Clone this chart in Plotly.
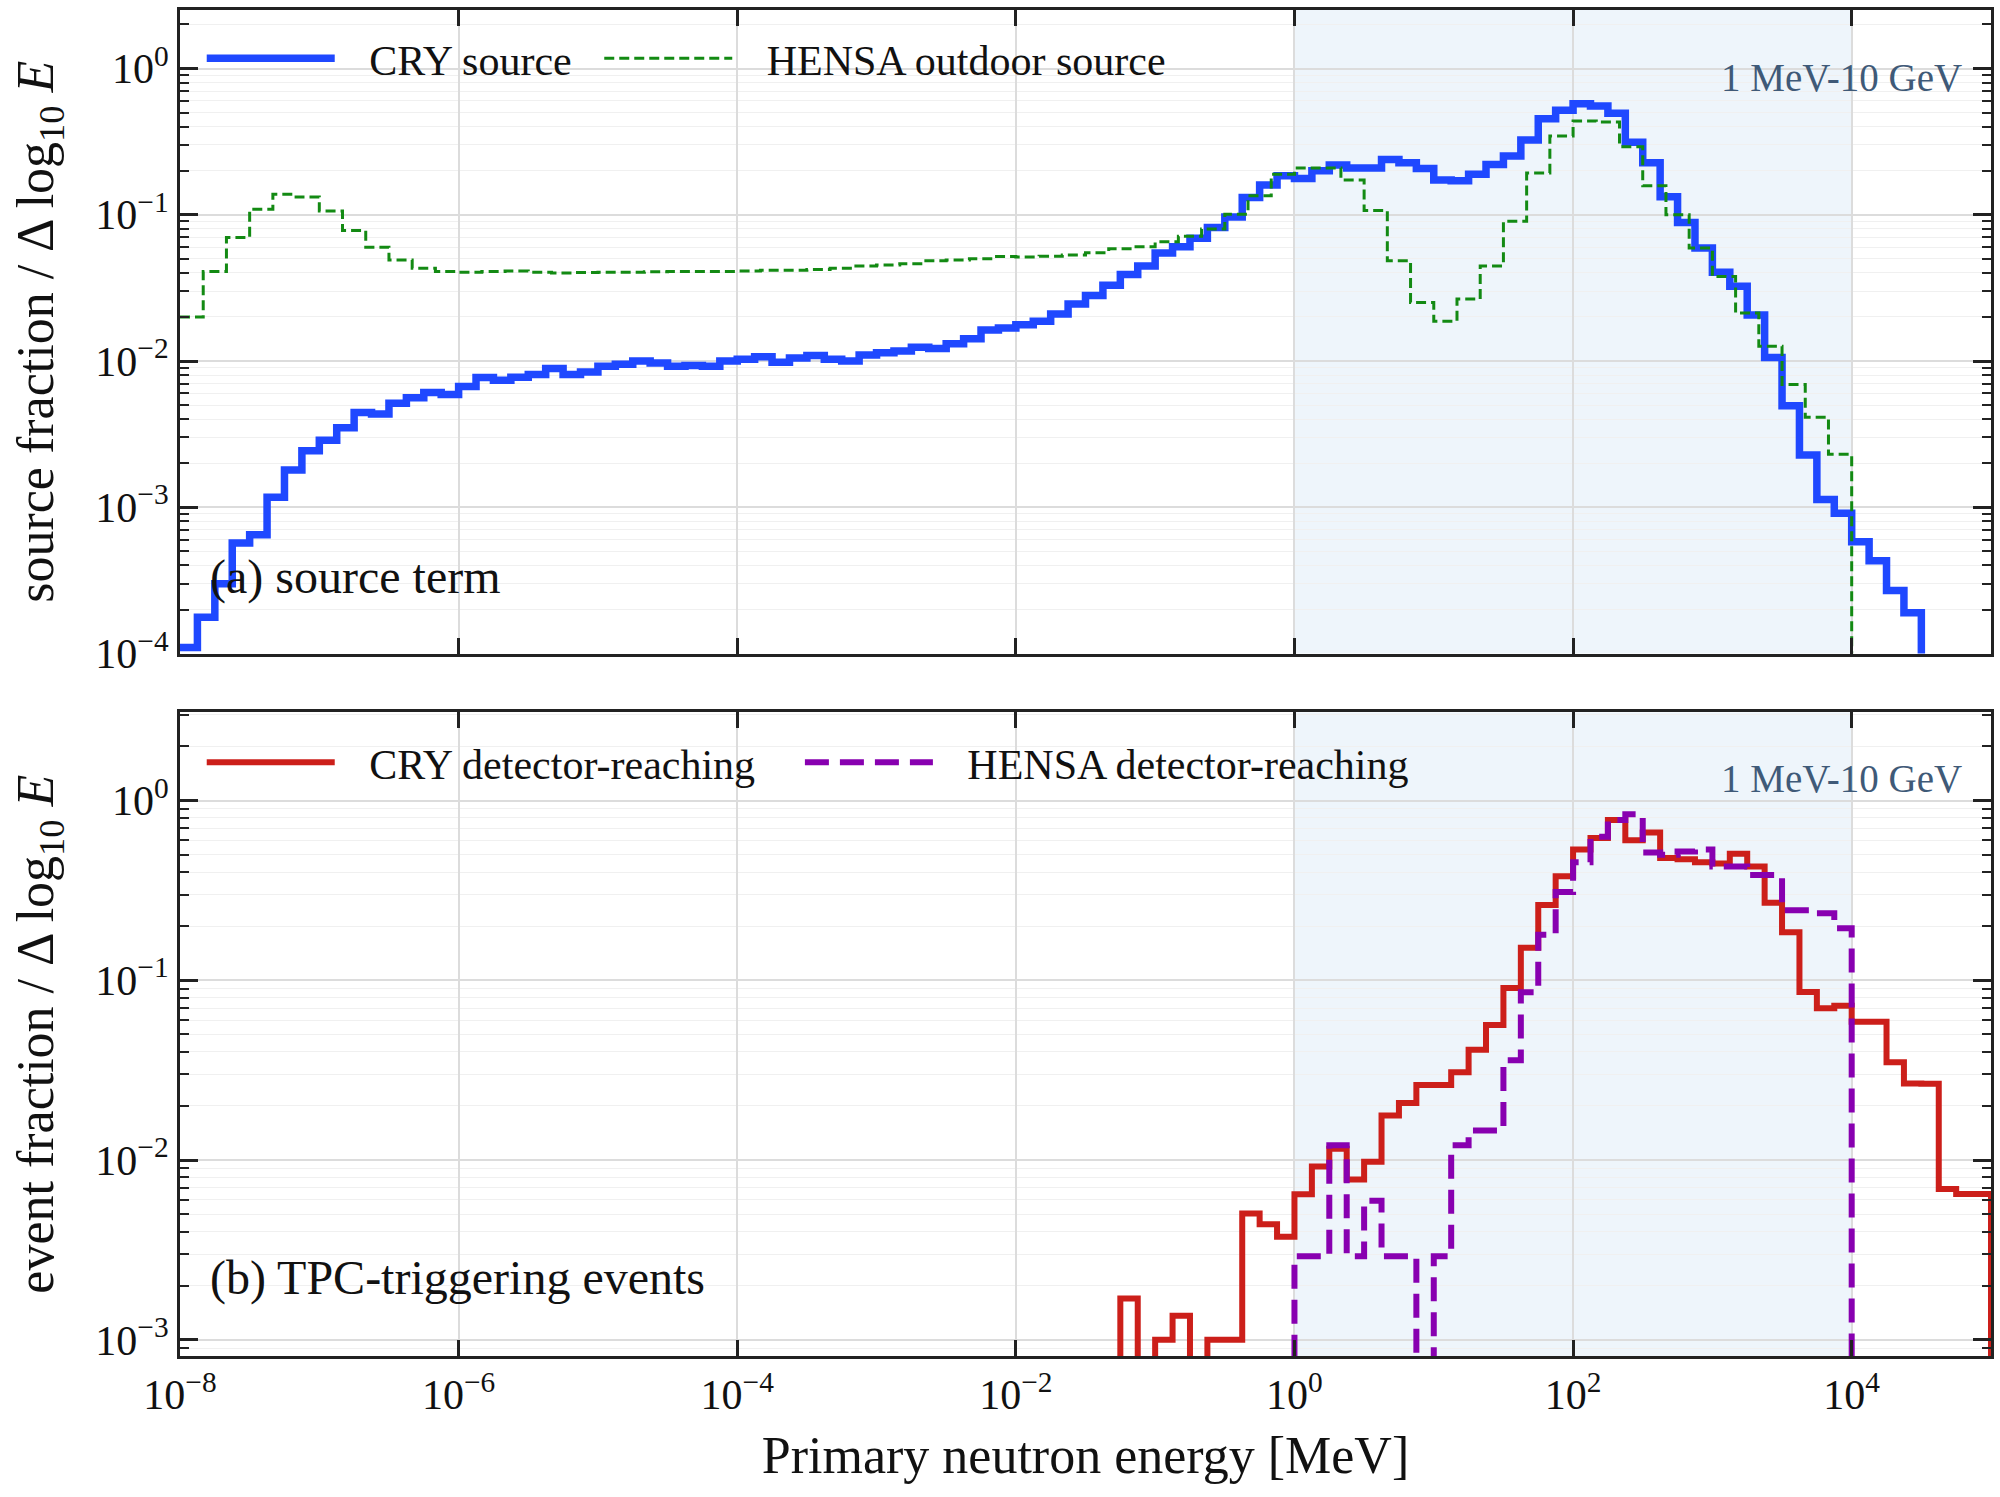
import numpy as np
import plotly.graph_objects as go
from plotly.subplots import make_subplots

# ---- data (fraction / delta log10 E) ----
# CRY source, 8 bins per decade starting at 1e-8 MeV
cry_source = [
    1.1e-4, 1.77e-4, 3.0e-4, 5.7e-4, 6.5e-4, 1.17e-3, 1.8e-3, 2.43e-3,
    2.87e-3, 3.5e-3, 4.44e-3, 4.35e-3, 5.14e-3, 5.6e-3, 6.1e-3, 5.9e-3,
    6.7e-3, 7.7e-3, 7.4e-3, 7.75e-3, 8.1e-3, 8.9e-3, 8.1e-3, 8.4e-3,
    9.2e-3, 9.5e-3, 1.0e-2, 9.7e-3, 9.2e-3, 9.3e-3, 9.2e-3, 1.0e-2,
    1.03e-2, 1.07e-2, 9.8e-3, 1.05e-2, 1.09e-2, 1.03e-2, 1.0e-2, 1.1e-2,
    1.14e-2, 1.17e-2, 1.24e-2, 1.22e-2, 1.31e-2, 1.42e-2, 1.63e-2, 1.68e-2,
    1.77e-2, 1.87e-2, 2.1e-2, 2.45e-2, 2.8e-2, 3.3e-2, 3.9e-2, 4.47e-2,
    5.47e-2, 6.04e-2, 6.9e-2, 8.18e-2, 9.67e-2, 0.131, 0.160, 0.185,
    0.177, 0.200, 0.219, 0.209, 0.209, 0.239, 0.227, 0.207,
    0.173, 0.171, 0.189, 0.221, 0.252, 0.324, 0.453, 0.518,
    0.573, 0.554, 0.494, 0.313, 0.227, 0.133, 0.0886, 0.0593,
    0.0404, 0.0324, 0.0206, 0.01055, 0.00494, 0.00228, 0.00113, 0.00091,
    5.8e-4, 4.3e-4, 2.7e-4, 1.9e-4,
]
# HENSA outdoor source, 6 bins per decade starting at 1e-8 MeV
hensa_source = [
    0.020, 0.041, 0.070, 0.109, 0.138, 0.132, 0.106, 0.078, 0.060, 0.049, 0.043, 0.041,
    0.0405, 0.041, 0.0412, 0.0405, 0.040, 0.0403, 0.0405, 0.0405, 0.0408, 0.041, 0.041, 0.041,
    0.0412, 0.0418, 0.0418, 0.0423, 0.043, 0.0447, 0.0453, 0.0462, 0.0484, 0.049, 0.050, 0.0518,
    0.0515, 0.052, 0.053, 0.055, 0.0585, 0.0604, 0.0655, 0.0714, 0.080, 0.101, 0.135, 0.189,
    0.209, 0.209, 0.173, 0.107, 0.0484, 0.0251, 0.0187, 0.0265, 0.0447, 0.0904, 0.193, 0.346,
    0.438, 0.430, 0.292, 0.158, 0.100, 0.0593, 0.0378, 0.0213, 0.01264, 0.00691, 0.00412, 0.0023,
]
# CRY detector-reaching, 8 bins per decade starting at 10^-1.25 MeV
cry_detector = [
    1.7e-3, 0, 1.0e-3, 1.36e-3, 0, 1.0e-3, 1.0e-3, 5.05e-3, 4.4e-3, 3.74e-3,
    6.45e-3, 9.2e-3, 1.155e-2, 7.8e-3, 9.8e-3, 1.77e-2, 2.08e-2, 2.62e-2,
    2.62e-2, 3.08e-2, 4.11e-2, 5.64e-2, 9.06e-2, 0.152, 0.262, 0.379,
    0.535, 0.619, 0.780, 0.602, 0.664, 0.479, 0.471, 0.454,
    0.447, 0.506, 0.430, 0.270, 0.185, 0.086, 0.070, 0.0723,
    0.0588, 0.0588, 0.035, 0.0267, 0.0266, 6.9e-3, 6.47e-3, 6.47e-3,
]
# HENSA detector-reaching, 8 bins per decade starting at 1 MeV
hensa_detector = [
    2.92e-3, 2.92e-3, 1.21e-2, 2.92e-3, 5.94e-3, 2.92e-3, 2.92e-3, 0,
    2.92e-3, 1.21e-2, 1.46e-2, 1.46e-2, 3.59e-2, 8.59e-2, 0.179, 0.310,
    0.454, 0.629, 0.780, 0.840, 0.514, 0.500, 0.520, 0.535,
    0.430, 0.430, 0.385, 0.385, 0.245, 0.245, 0.236, 0.195,
]

x_exponents = [-8, -6, -4, -2, 0, 2, 4]
y_exponents_top = [-4, -3, -2, -1, 0]
y_exponents_bottom = [-3, -2, -1, 0]

FONT = "Liberation Serif"
INK = "#222222"
FLOOR = 1e-7  # stands in for empty bins on the log axis
PAD = "\u00a0\u00a0\u2009"  # gap between legend key and label


def step_xy(values, log_start, per_decade, drop_left=True):
    n = len(values)
    edges = 10 ** (log_start + np.arange(n + 1) / per_decade)
    vals = [v if v > 0 else FLOOR for v in values]
    xs = list(edges[:-1]) + [edges[-1]]
    ys = vals + [FLOOR]
    if drop_left:
        xs = [edges[0]] + xs
        ys = [FLOOR] + ys
    return xs, ys


def pow_label(e):
    return "10<sup>" + str(e).replace("-", "\u2212") + "</sup>"


fig = make_subplots(rows=2, cols=1, shared_xaxes=True, vertical_spacing=0.0438)

x, y = step_xy(cry_source, -8, 8, drop_left=False)
fig.add_trace(go.Scatter(x=x, y=y, mode="lines", line_shape="hv", name=PAD + "CRY source",
                         line=dict(color="#1f48ff", width=7.5), legend="legend", showlegend=True),
              row=1, col=1)
x, y = step_xy(hensa_source, -8, 6, drop_left=False)
fig.add_trace(go.Scatter(x=x, y=y, mode="lines", line_shape="hv", name=PAD + "HENSA outdoor source",
                         line=dict(color="#138a13", width=3, dash="10px,5px"), legend="legend2",
                         showlegend=True), row=1, col=1)
x, y = step_xy(cry_detector, -1.25, 8)
fig.add_trace(go.Scatter(x=x, y=y, mode="lines", line_shape="hv", name=PAD + "CRY detector-reaching",
                         line=dict(color="#cc1f1a", width=6), legend="legend3", showlegend=True),
              row=2, col=1)
x, y = step_xy(hensa_detector, 0, 8)
fig.add_trace(go.Scatter(x=x, y=y, mode="lines", line_shape="hv", name=PAD + "HENSA detector-reaching",
                         line=dict(color="#8800b0", width=6, dash="24px,11px"), legend="legend4",
                         showlegend=True), row=2, col=1)

# 1 MeV - 10 GeV band
fig.add_vrect(x0=1, x1=1e4, fillcolor="#eef5fb", opacity=1, line_width=0, layer="below",
              row="all", col=1)

xaxis_style = dict(
    type="log", range=[-8, 5],
    tickvals=[10.0 ** e for e in x_exponents], ticktext=[pow_label(e) for e in x_exponents],
    ticks="inside", ticklen=16, tickwidth=3, tickcolor=INK,
    showline=True, linewidth=3, linecolor=INK, mirror="allticks",
    showgrid=True, gridcolor="#dcdcdc", gridwidth=1.5,
    tickfont=dict(family=FONT, size=42, color="#111"),
)
fig.update_xaxes(**xaxis_style)
fig.update_xaxes(showticklabels=False, row=1, col=1)
fig.update_xaxes(title=dict(text="Primary neutron energy [MeV]", font=dict(family=FONT, size=52, color="#111"),
                            standoff=20), row=2, col=1)


def yaxis_style(exps, lo, hi, title):
    minor_vals = [k * 10.0 ** e for e in range(int(np.floor(lo)) - 1, int(np.ceil(hi)) + 1) for k in range(2, 10)]
    return dict(
        type="log", range=[lo, hi],
        tickvals=[10.0 ** e for e in exps], ticktext=[pow_label(e) for e in exps],
        ticks="inside", ticklen=18, tickwidth=3, tickcolor=INK,
        showline=True, linewidth=3, linecolor=INK, mirror="allticks",
        showgrid=True, gridcolor="#dcdcdc", gridwidth=1.5,
        minor=dict(tickmode="array", tickvals=minor_vals, ticks="inside", ticklen=9, tickwidth=2.2,
                   tickcolor=INK, showgrid=True, gridcolor="#f0f0f0", gridwidth=1),
        tickfont=dict(family=FONT, size=42, color="#111"),
        title=dict(text=title, font=dict(family=FONT, size=52, color="#111"), standoff=26),
    )


fig.update_yaxes(**yaxis_style(y_exponents_top, -4, 0.4,
                               "source fraction / \u0394 log<sub>10</sub> <i>E</i>"), row=1, col=1)
fig.update_yaxes(**yaxis_style(y_exponents_bottom, -3.09, 0.49,
                               "event fraction / \u0394 log<sub>10</sub> <i>E</i>"), row=2, col=1)

annotations = [
    dict(text="(a) source term", x=0.0154, y=0.579, xanchor="left", size=48, color="#111"),
    dict(text="(b) TPC-triggering events", x=0.0154, y=0.058, xanchor="left", size=48, color="#111"),
    dict(text="1 MeV-10 GeV", x=0.985, y=0.9495, xanchor="right", size=39, color="#3f5a78"),
    dict(text="1 MeV-10 GeV", x=0.985, y=0.4287, xanchor="right", size=39, color="#3f5a78"),
]
for a in annotations:
    fig.add_annotation(text=a["text"], x=a["x"], y=a["y"], xref="paper", yref="paper",
                       xanchor=a["xanchor"], yanchor="middle", showarrow=False,
                       font=dict(family=FONT, size=a["size"], color=a["color"]))

legend_common = dict(orientation="h", bgcolor="rgba(0,0,0,0)", xanchor="left", yanchor="middle",
                     font=dict(family=FONT, size=42, color="#111"), itemwidth=128)
fig.update_layout(
    width=2000, height=1497,
    margin=dict(l=180, r=6, t=10, b=141),
    plot_bgcolor="white", paper_bgcolor="white",
    font=dict(family=FONT, color="#111"),
    showlegend=True,
    legend=dict(x=0.012, y=0.964, **legend_common),
    legend2=dict(x=0.2315, y=0.964, **legend_common),
    legend3=dict(x=0.012, y=0.441, **legend_common),
    legend4=dict(x=0.3423, y=0.441, **legend_common),
)

fig.write_html("out.html", config={"displayModeBar": False},
               post_script="document.body.style.margin='0px';")
